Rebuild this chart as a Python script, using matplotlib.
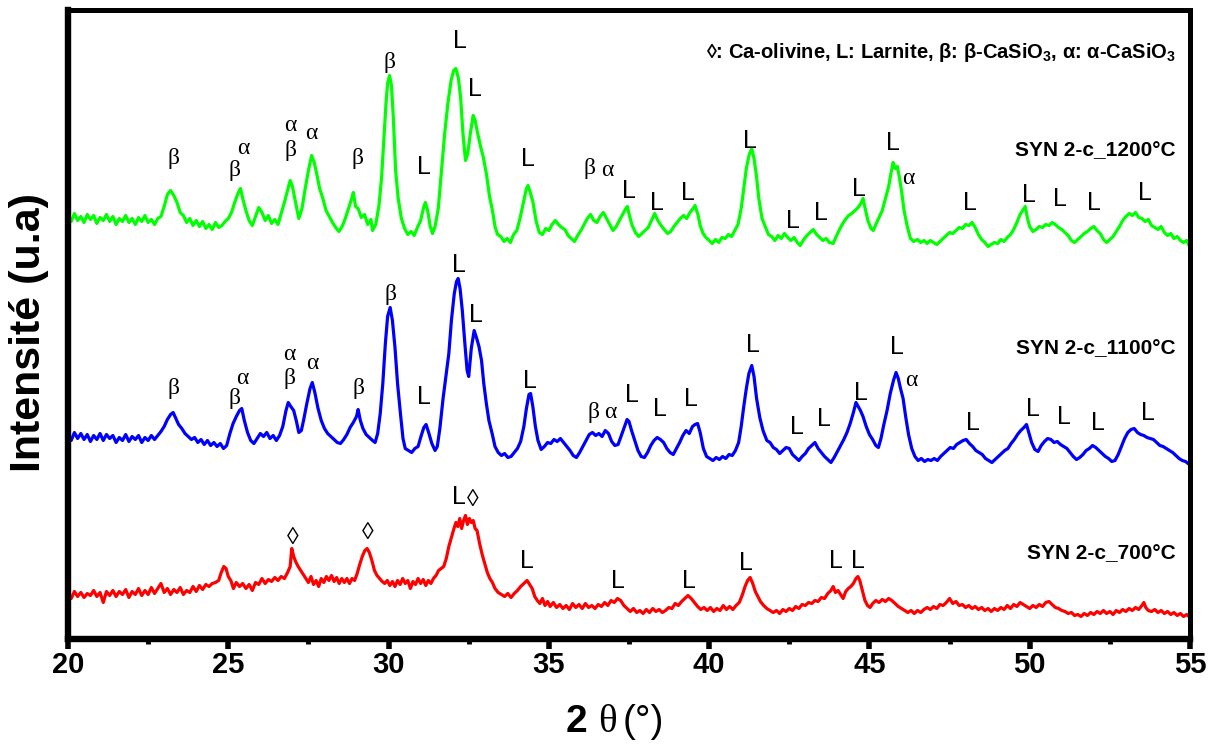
import matplotlib
matplotlib.use("Agg")
import matplotlib.pyplot as plt
from matplotlib import font_manager

# fonts: narrow bold for the tick labels if it exists
names = set(f.name for f in font_manager.fontManager.ttflist)
NARROW = "Liberation Sans Narrow" if "Liberation Sans Narrow" in names else "Liberation Sans"
plt.rcParams["font.family"] = ["Liberation Sans", "DejaVu Sans"]
plt.rcParams["mathtext.fontset"] = "custom"
plt.rcParams["mathtext.bf"] = "Liberation Sans:bold"
plt.rcParams["mathtext.rm"] = "Liberation Sans"

# --- data: (2 theta in degrees, intensity in a.u., already stacked) ---
pts_1200 = [
    (20.0, 423), (20.1, 417), (20.2, 425), (20.3, 418), (20.4, 422), (20.5, 416), (20.6, 424),
    (20.7, 419), (20.8, 423), (20.9, 415), (21.0, 421), (21.1, 418), (21.2, 424), (21.3, 417),
    (21.4, 422), (21.5, 414), (21.6, 420), (21.7, 417), (21.8, 423), (21.9, 416), (22.0, 420),
    (22.1, 414), (22.2, 421), (22.3, 417), (22.4, 423), (22.5, 416), (22.6, 419), (22.7, 414),
    (22.8, 420), (22.9, 422), (23.0, 432), (23.1, 444), (23.2, 448), (23.3, 443), (23.4, 436),
    (23.5, 426), (23.6, 423), (23.7, 416), (23.8, 420), (23.9, 413), (24.0, 418), (24.1, 412),
    (24.2, 417), (24.3, 410), (24.4, 414), (24.5, 409), (24.6, 416), (24.7, 411), (24.8, 413),
    (24.9, 417), (25.0, 420), (25.1, 426), (25.2, 436), (25.3, 445), (25.38, 450), (25.45, 440),
    (25.55, 428), (25.65, 418), (25.75, 413), (25.85, 422), (25.95, 431), (26.05, 426),
    (26.15, 418), (26.25, 423), (26.35, 415), (26.45, 419), (26.55, 414), (26.65, 425),
    (26.75, 436), (26.85, 448), (26.93, 458), (27.0, 452), (27.1, 436), (27.2, 420), (27.3, 430),
    (27.4, 450), (27.5, 468), (27.6, 483), (27.68, 476), (27.75, 466), (27.85, 450), (27.95, 440),
    (28.05, 428), (28.15, 422), (28.25, 416), (28.35, 411), (28.45, 407), (28.55, 412),
    (28.65, 420), (28.75, 430), (28.85, 440), (28.9, 446), (28.97, 432), (29.05, 430),
    (29.15, 421), (29.25, 424), (29.35, 414), (29.45, 419), (29.5, 408), (29.6, 414), (29.7, 433),
    (29.78, 460), (29.85, 498), (29.92, 535), (29.97, 555), (30.03, 563), (30.09, 553),
    (30.15, 520), (30.22, 468), (30.3, 440), (30.4, 420), (30.5, 410), (30.6, 404), (30.7, 407),
    (30.8, 403), (30.9, 411), (31.0, 418), (31.1, 432), (31.15, 436), (31.22, 428), (31.3, 412),
    (31.37, 405), (31.45, 412), (31.55, 430), (31.65, 468), (31.75, 505), (31.85, 535),
    (31.95, 558), (32.03, 568), (32.1, 570), (32.18, 560), (32.25, 540), (32.32, 505),
    (32.4, 478), (32.47, 485), (32.55, 505), (32.64, 523), (32.7, 518), (32.78, 505),
    (32.87, 492), (32.95, 482), (33.05, 465), (33.15, 442), (33.24, 428), (33.32, 412),
    (33.4, 404), (33.5, 402), (33.6, 397), (33.7, 400), (33.8, 396), (33.9, 404), (34.0, 408),
    (34.1, 420), (34.2, 435), (34.3, 450), (34.35, 453), (34.42, 446), (34.5, 437), (34.6, 418),
    (34.7, 406), (34.8, 404), (34.9, 410), (35.0, 408), (35.1, 414), (35.2, 418), (35.3, 414),
    (35.4, 411), (35.5, 409), (35.6, 403), (35.7, 400), (35.8, 397), (35.9, 403), (36.0, 408),
    (36.1, 414), (36.2, 420), (36.3, 424), (36.4, 418), (36.5, 416), (36.6, 422), (36.7, 426),
    (36.8, 420), (36.9, 414), (37.0, 408), (37.1, 412), (37.2, 418), (37.3, 424), (37.4, 430),
    (37.45, 432), (37.52, 422), (37.6, 413), (37.7, 406), (37.8, 402), (37.9, 405), (38.0, 408),
    (38.1, 411), (38.2, 418), (38.3, 425), (38.4, 418), (38.5, 413), (38.6, 409), (38.7, 405),
    (38.8, 407), (38.9, 412), (39.0, 416), (39.1, 420), (39.2, 423), (39.3, 420), (39.4, 426),
    (39.5, 430), (39.56, 433), (39.65, 424), (39.72, 413), (39.81, 405), (39.9, 401), (40.0, 398),
    (40.1, 395), (40.2, 399), (40.3, 396), (40.4, 401), (40.5, 400), (40.6, 404), (40.7, 402),
    (40.8, 408), (40.9, 414), (41.0, 430), (41.08, 450), (41.16, 470), (41.25, 484), (41.33, 490),
    (41.4, 480), (41.47, 464), (41.55, 440), (41.65, 420), (41.75, 412), (41.85, 404),
    (41.95, 402), (42.05, 398), (42.15, 403), (42.25, 400), (42.35, 405), (42.45, 401),
    (42.55, 398), (42.65, 401), (42.75, 396), (42.84, 393), (42.95, 399), (43.05, 403),
    (43.15, 406), (43.25, 409), (43.35, 404), (43.45, 401), (43.55, 398), (43.65, 400),
    (43.75, 396), (43.87, 395), (43.95, 401), (44.05, 408), (44.15, 414), (44.25, 419),
    (44.35, 423), (44.45, 425), (44.55, 428), (44.65, 431), (44.75, 436), (44.8, 440),
    (44.88, 428), (44.95, 418), (45.05, 410), (45.12, 408), (45.2, 414), (45.3, 421), (45.4, 428),
    (45.5, 440), (45.6, 452), (45.67, 465), (45.74, 476), (45.8, 470), (45.87, 472), (45.93, 462),
    (46.0, 448), (46.08, 428), (46.18, 412), (46.28, 400), (46.38, 397), (46.5, 399), (46.6, 396),
    (46.7, 398), (46.8, 395), (46.9, 398), (47.0, 396), (47.1, 394), (47.2, 397), (47.3, 400),
    (47.4, 403), (47.5, 406), (47.6, 405), (47.7, 408), (47.8, 411), (47.9, 410), (48.0, 414),
    (48.1, 413), (48.2, 416), (48.3, 411), (48.4, 404), (48.5, 399), (48.6, 396), (48.7, 392),
    (48.8, 394), (48.9, 396), (49.0, 395), (49.1, 399), (49.2, 397), (49.3, 401), (49.4, 404),
    (49.5, 409), (49.6, 416), (49.7, 424), (49.8, 429), (49.86, 432), (49.93, 420), (50.0, 412),
    (50.1, 407), (50.2, 409), (50.3, 412), (50.4, 411), (50.5, 414), (50.6, 413), (50.7, 416),
    (50.8, 414), (50.9, 411), (51.0, 409), (51.1, 406), (51.2, 403), (51.3, 398), (51.4, 396),
    (51.5, 399), (51.6, 402), (51.7, 405), (51.8, 407), (51.9, 410), (52.0, 412), (52.1, 408),
    (52.2, 405), (52.3, 399), (52.4, 396), (52.5, 399), (52.6, 402), (52.7, 407), (52.8, 412),
    (52.9, 418), (53.0, 422), (53.1, 425), (53.2, 423), (53.3, 426), (53.4, 421), (53.5, 420),
    (53.6, 417), (53.7, 419), (53.8, 413), (53.9, 411), (54.0, 409), (54.1, 412), (54.2, 406),
    (54.3, 403), (54.4, 405), (54.5, 400), (54.6, 402), (54.7, 398), (54.8, 396), (54.9, 398),
    (55.0, 391)]

pts_1100 = [
    (20.0, 203), (20.1, 198), (20.2, 206), (20.3, 200), (20.4, 205), (20.5, 199), (20.6, 204),
    (20.7, 197), (20.8, 203), (20.9, 199), (21.0, 205), (21.1, 198), (21.2, 204), (21.3, 200),
    (21.4, 203), (21.5, 196), (21.6, 201), (21.7, 198), (21.8, 204), (21.9, 197), (22.0, 202),
    (22.1, 199), (22.2, 203), (22.3, 196), (22.4, 201), (22.5, 198), (22.6, 203), (22.7, 199),
    (22.8, 203), (22.9, 207), (23.0, 212), (23.1, 219), (23.2, 224), (23.28, 226), (23.35, 221),
    (23.45, 214), (23.55, 210), (23.65, 205), (23.75, 202), (23.85, 199), (23.95, 201),
    (24.05, 196), (24.15, 199), (24.25, 194), (24.35, 198), (24.45, 193), (24.55, 196),
    (24.65, 192), (24.75, 195), (24.85, 190), (24.95, 193), (25.05, 205), (25.15, 215),
    (25.25, 222), (25.35, 228), (25.42, 230), (25.5, 218), (25.6, 206), (25.7, 198), (25.8, 195),
    (25.9, 200), (26.0, 205), (26.1, 202), (26.2, 206), (26.3, 200), (26.4, 203), (26.5, 198),
    (26.6, 203), (26.7, 212), (26.8, 228), (26.87, 236), (26.95, 232), (27.04, 228),
    (27.12, 218), (27.2, 206), (27.28, 208), (27.36, 220), (27.45, 235), (27.55, 250),
    (27.62, 256), (27.7, 246), (27.8, 230), (27.9, 218), (28.0, 210), (28.1, 205), (28.2, 202),
    (28.3, 199), (28.4, 196), (28.5, 195), (28.6, 199), (28.7, 204), (28.8, 211), (28.9, 216),
    (29.0, 222), (29.05, 229), (29.12, 218), (29.2, 210), (29.3, 204), (29.4, 201), (29.5, 198),
    (29.58, 196), (29.66, 205), (29.74, 225), (29.82, 255), (29.9, 295), (29.97, 322),
    (30.05, 331), (30.12, 318), (30.2, 291), (30.28, 255), (30.37, 225), (30.45, 200),
    (30.52, 190), (30.62, 188), (30.72, 186), (30.82, 190), (30.92, 192), (31.02, 203),
    (31.1, 211), (31.17, 214), (31.25, 206), (31.35, 195), (31.45, 188), (31.52, 192),
    (31.6, 210), (31.7, 240), (31.8, 265), (31.88, 285), (31.96, 318), (32.05, 345),
    (32.12, 357), (32.17, 360), (32.23, 350), (32.3, 328), (32.38, 295), (32.45, 268),
    (32.5, 262), (32.58, 290), (32.67, 308), (32.75, 300), (32.82, 292), (32.9, 278),
    (32.97, 255), (33.05, 235), (33.13, 218), (33.23, 205), (33.32, 192), (33.42, 186),
    (33.52, 183), (33.62, 185), (33.72, 181), (33.82, 182), (33.92, 186), (34.02, 190),
    (34.12, 197), (34.22, 212), (34.3, 230), (34.38, 244), (34.43, 245), (34.5, 232),
    (34.58, 212), (34.66, 198), (34.76, 189), (34.86, 192), (34.96, 196), (35.06, 195),
    (35.16, 199), (35.26, 197), (35.36, 200), (35.46, 196), (35.56, 192), (35.66, 188),
    (35.76, 183), (35.86, 181), (35.96, 186), (36.06, 192), (36.16, 198), (36.26, 204),
    (36.36, 206), (36.46, 203), (36.56, 205), (36.66, 202), (36.76, 208), (36.86, 205),
    (36.96, 197), (37.06, 193), (37.16, 194), (37.26, 203), (37.36, 212), (37.44, 219),
    (37.5, 217), (37.58, 208), (37.68, 198), (37.78, 188), (37.88, 182), (37.98, 181),
    (38.08, 186), (38.18, 193), (38.28, 198), (38.38, 201), (38.48, 199), (38.58, 196),
    (38.68, 190), (38.78, 186), (38.88, 184), (38.98, 190), (39.08, 196), (39.18, 203),
    (39.28, 208), (39.38, 205), (39.48, 212), (39.56, 214), (39.64, 215), (39.72, 206),
    (39.82, 190), (39.92, 182), (40.02, 180), (40.12, 178), (40.22, 181), (40.32, 179),
    (40.42, 182), (40.52, 180), (40.62, 184), (40.72, 183), (40.82, 188), (40.92, 196),
    (41.0, 212), (41.08, 232), (41.16, 250), (41.24, 265), (41.33, 273), (41.4, 262),
    (41.48, 240), (41.58, 221), (41.68, 208), (41.8, 198), (41.9, 196), (42.0, 191), (42.1, 189),
    (42.2, 185), (42.3, 188), (42.4, 191), (42.5, 190), (42.6, 184), (42.7, 181), (42.8, 178),
    (42.9, 182), (43.0, 185), (43.1, 190), (43.2, 193), (43.3, 196), (43.4, 190), (43.5, 186),
    (43.6, 182), (43.7, 179), (43.8, 176), (43.9, 181), (44.0, 187), (44.1, 193), (44.2, 199),
    (44.3, 206), (44.4, 215), (44.5, 226), (44.58, 236), (44.65, 232), (44.72, 228), (44.8, 222),
    (44.9, 212), (45.0, 204), (45.1, 199), (45.2, 193), (45.28, 191), (45.36, 200), (45.45, 214),
    (45.55, 228), (45.65, 245), (45.75, 258), (45.83, 266), (45.9, 260), (45.97, 250),
    (46.05, 240), (46.13, 222), (46.22, 204), (46.32, 190), (46.42, 182), (46.52, 178),
    (46.62, 180), (46.72, 177), (46.82, 179), (46.92, 178), (47.02, 180), (47.12, 178),
    (47.22, 182), (47.32, 185), (47.42, 188), (47.52, 191), (47.62, 190), (47.72, 194),
    (47.82, 196), (47.92, 198), (48.02, 199), (48.12, 195), (48.22, 192), (48.32, 188),
    (48.42, 186), (48.52, 184), (48.62, 180), (48.72, 178), (48.82, 176), (48.92, 179),
    (49.02, 182), (49.12, 185), (49.22, 188), (49.32, 190), (49.42, 195), (49.52, 199),
    (49.62, 204), (49.72, 208), (49.82, 211), (49.9, 214), (49.98, 205), (50.06, 196),
    (50.16, 189), (50.26, 187), (50.36, 193), (50.46, 197), (50.56, 200), (50.66, 199),
    (50.76, 196), (50.86, 197), (50.96, 194), (51.06, 192), (51.16, 190), (51.26, 186),
    (51.36, 182), (51.46, 179), (51.56, 181), (51.66, 184), (51.76, 188), (51.86, 190),
    (51.96, 193), (52.06, 191), (52.16, 188), (52.26, 185), (52.36, 182), (52.46, 180),
    (52.56, 177), (52.66, 178), (52.76, 184), (52.86, 192), (52.96, 200), (53.06, 206),
    (53.16, 209), (53.26, 210), (53.36, 206), (53.46, 204), (53.56, 203), (53.66, 201),
    (53.76, 200), (53.86, 199), (53.96, 196), (54.06, 193), (54.16, 192), (54.26, 190),
    (54.36, 188), (54.46, 186), (54.56, 183), (54.66, 180), (54.76, 178), (54.86, 177),
    (54.94, 175)]

pts_700 = [
    (20.0, 45), (20.1, 40), (20.2, 47), (20.3, 42), (20.4, 46), (20.5, 41), (20.6, 45), (20.7, 43),
    (20.8, 48), (20.9, 42), (21.0, 46), (21.1, 36), (21.2, 47), (21.3, 43), (21.4, 48), (21.5, 42),
    (21.6, 47), (21.7, 44), (21.8, 49), (21.9, 41), (22.0, 47), (22.1, 44), (22.2, 50), (22.3, 43),
    (22.4, 48), (22.5, 44), (22.6, 51), (22.7, 45), (22.8, 50), (22.9, 55), (23.0, 46), (23.1, 50),
    (23.2, 44), (23.3, 49), (23.4, 46), (23.5, 51), (23.6, 44), (23.7, 48), (23.8, 46), (23.9, 52),
    (24.0, 47), (24.1, 53), (24.2, 49), (24.3, 54), (24.4, 52), (24.5, 55), (24.6, 56), (24.7, 58),
    (24.78, 66), (24.86, 72), (24.93, 70), (25.0, 62), (25.08, 58), (25.16, 50), (25.25, 56),
    (25.35, 52), (25.45, 55), (25.55, 50), (25.65, 54), (25.75, 48), (25.85, 56), (25.95, 54),
    (26.05, 60), (26.15, 55), (26.25, 59), (26.35, 57), (26.45, 61), (26.55, 58), (26.65, 62),
    (26.75, 60), (26.85, 66), (26.93, 72), (26.98, 90), (27.04, 82), (27.1, 77), (27.18, 72),
    (27.26, 68), (27.34, 64), (27.42, 60), (27.5, 56), (27.58, 62), (27.66, 54), (27.74, 58),
    (27.82, 52), (27.9, 60), (27.98, 56), (28.06, 62), (28.14, 58), (28.22, 63), (28.3, 57),
    (28.38, 61), (28.46, 55), (28.54, 60), (28.62, 56), (28.7, 60), (28.78, 55), (28.86, 60),
    (28.94, 58), (29.02, 65), (29.1, 74), (29.18, 82), (29.26, 88), (29.33, 90), (29.4, 86),
    (29.48, 78), (29.56, 68), (29.64, 63), (29.72, 60), (29.8, 57), (29.88, 55), (29.96, 58),
    (30.04, 53), (30.12, 57), (30.2, 52), (30.28, 58), (30.36, 54), (30.44, 60), (30.52, 55),
    (30.6, 58), (30.68, 50), (30.76, 57), (30.84, 54), (30.92, 60), (31.0, 55), (31.08, 59),
    (31.16, 53), (31.24, 58), (31.32, 55), (31.4, 60), (31.48, 63), (31.56, 68), (31.64, 70),
    (31.72, 72), (31.8, 80), (31.88, 92), (31.96, 101), (32.04, 110), (32.1, 116), (32.16, 112),
    (32.22, 120), (32.28, 110), (32.34, 118), (32.4, 123), (32.46, 114), (32.52, 120),
    (32.58, 116), (32.64, 118), (32.7, 110), (32.76, 108), (32.84, 95), (32.92, 84), (33.0, 75),
    (33.08, 66), (33.16, 60), (33.24, 56), (33.32, 50), (33.42, 46), (33.52, 44), (33.62, 42),
    (33.72, 45), (33.82, 41), (33.92, 45), (34.02, 48), (34.12, 52), (34.22, 55), (34.32, 58),
    (34.4, 54), (34.48, 50), (34.56, 42), (34.64, 38), (34.72, 35), (34.8, 40), (34.88, 33),
    (34.96, 37), (35.04, 32), (35.14, 36), (35.24, 31), (35.34, 34), (35.44, 30), (35.54, 33),
    (35.64, 29), (35.74, 35), (35.84, 31), (35.94, 34), (36.04, 30), (36.14, 35), (36.24, 31),
    (36.34, 33), (36.44, 30), (36.54, 34), (36.64, 32), (36.74, 36), (36.84, 33), (36.94, 38),
    (37.04, 36), (37.14, 40), (37.24, 38), (37.34, 33), (37.44, 30), (37.54, 27), (37.64, 30),
    (37.74, 26), (37.84, 28), (37.94, 25), (38.04, 29), (38.14, 26), (38.24, 30), (38.34, 27),
    (38.44, 29), (38.54, 26), (38.64, 28), (38.74, 31), (38.84, 30), (38.94, 35), (39.04, 33),
    (39.14, 37), (39.24, 40), (39.34, 43), (39.44, 40), (39.54, 36), (39.64, 32), (39.74, 29),
    (39.84, 31), (39.94, 28), (40.04, 31), (40.14, 27), (40.24, 30), (40.34, 28), (40.44, 33),
    (40.54, 29), (40.64, 32), (40.74, 29), (40.84, 33), (40.94, 36), (41.04, 44), (41.12, 52),
    (41.2, 58), (41.28, 61), (41.36, 55), (41.44, 47), (41.52, 42), (41.6, 37), (41.7, 33),
    (41.8, 30), (41.9, 28), (42.0, 26), (42.1, 28), (42.2, 25), (42.3, 29), (42.4, 27), (42.5, 30),
    (42.6, 28), (42.7, 32), (42.8, 30), (42.9, 34), (43.0, 33), (43.1, 36), (43.2, 35), (43.3, 38),
    (43.4, 37), (43.5, 41), (43.6, 40), (43.7, 45), (43.8, 48), (43.87, 52), (43.94, 46),
    (44.02, 48), (44.1, 44), (44.18, 40), (44.26, 47), (44.34, 50), (44.42, 52), (44.5, 55),
    (44.58, 60), (44.64, 62), (44.7, 58), (44.78, 48), (44.86, 38), (44.94, 33), (45.02, 31),
    (45.1, 35), (45.2, 38), (45.3, 36), (45.4, 39), (45.5, 37), (45.6, 40), (45.7, 38), (45.8, 35),
    (45.9, 32), (46.0, 30), (46.1, 28), (46.2, 26), (46.3, 28), (46.4, 25), (46.5, 28), (46.6, 26),
    (46.7, 29), (46.8, 31), (46.9, 29), (47.0, 32), (47.1, 30), (47.2, 34), (47.3, 33), (47.4, 36),
    (47.5, 40), (47.6, 35), (47.7, 37), (47.8, 33), (47.9, 34), (48.0, 31), (48.1, 33), (48.2, 30),
    (48.3, 32), (48.4, 29), (48.5, 31), (48.6, 28), (48.7, 30), (48.8, 27), (48.9, 30), (49.0, 28),
    (49.1, 31), (49.2, 29), (49.3, 33), (49.4, 30), (49.5, 34), (49.6, 32), (49.7, 36), (49.8, 34),
    (49.9, 32), (50.0, 30), (50.1, 33), (50.2, 31), (50.3, 34), (50.4, 32), (50.5, 36), (50.6, 37),
    (50.7, 34), (50.8, 31), (50.9, 30), (51.0, 28), (51.1, 27), (51.2, 25), (51.3, 26), (51.4, 23),
    (51.5, 24), (51.6, 22), (51.7, 25), (51.8, 23), (51.9, 26), (52.0, 24), (52.1, 27), (52.2, 25),
    (52.3, 28), (52.4, 25), (52.5, 27), (52.6, 24), (52.7, 28), (52.8, 26), (52.9, 29), (53.0, 27),
    (53.1, 30), (53.2, 28), (53.3, 31), (53.4, 29), (53.5, 33), (53.56, 36), (53.62, 31),
    (53.7, 28), (53.8, 27), (53.9, 29), (54.0, 26), (54.1, 28), (54.2, 25), (54.3, 27), (54.4, 24),
    (54.5, 26), (54.6, 23), (54.7, 25), (54.8, 22), (54.9, 24), (55.0, 21)]

# phase marks: (symbol, 2theta, height)
marks_1200 = [("β", 23.29, 480), ("β", 25.19, 468), ("α", 25.47, 490), ("α", 26.94, 513),
              ("β", 26.94, 488), ("α", 27.6, 505), ("β", 29.02, 480), ("β", 30.02, 576),
              ("L", 31.11, 472), ("L", 32.23, 598), ("L", 32.7, 550), ("L", 34.35, 480),
              ("β", 36.28, 470), ("α", 36.82, 468), ("L", 37.5, 448), ("L", 38.38, 436),
              ("L", 39.35, 446), ("L", 41.28, 498), ("L", 42.62, 418), ("L", 43.5, 426),
              ("L", 44.68, 450), ("L", 45.74, 496), ("α", 46.2, 460), ("L", 48.13, 436),
              ("L", 49.97, 443), ("L", 50.94, 440), ("L", 52.0, 435), ("L", 53.59, 446)]
marks_1100 = [("β", 23.29, 250), ("β", 25.19, 240), ("α", 25.43, 260), ("α", 26.9, 284),
              ("β", 26.9, 260), ("α", 27.62, 275), ("β", 29.05, 250), ("β", 30.05, 344),
              ("L", 31.11, 242), ("L", 32.2, 374), ("L", 32.73, 324), ("L", 34.42, 258),
              ("β", 36.38, 226), ("α", 36.91, 226), ("L", 37.6, 244), ("L", 38.47, 230),
              ("L", 39.44, 240), ("L", 41.37, 293), ("L", 42.74, 212), ("L", 43.58, 220),
              ("L", 44.74, 245), ("L", 45.86, 291), ("α", 46.3, 258), ("L", 48.22, 216),
              ("L", 50.1, 230), ("L", 51.07, 222), ("L", 52.13, 216), ("L", 53.69, 226)]
marks_700 = [("◊", 27.0, 100), ("◊", 29.34, 105), ("L", 32.2, 141), ("◊", 32.64, 138),
             ("L", 34.32, 78), ("L", 37.16, 58), ("L", 39.37, 58), ("L", 41.15, 76),
             ("L", 43.96, 78), ("L", 44.64, 78)]

samples = ["SYN 2-c_1200°C", "SYN 2-c_1100°C", "SYN 2-c_700°C"]
sample_y = [488, 290, 85]

fig = plt.figure(figsize=(12.19, 7.53), dpi=100)
ax = fig.add_axes([68 / 1219, 1 - 638.5 / 753, (1190 - 68) / 1219, (638.5 - 10) / 753])

for pts, col in ((pts_1200, "#00ff00"), (pts_1100, "#0000ff"), (pts_700, "#ff0000")):
    tt, ii = zip(*pts)
    ax.plot(tt, ii, color=col, lw=2.3)

for marks in (marks_1200, marks_1100, marks_700):
    for s, x, y in marks:
        if s == "L":
            ax.text(x, y, s, fontsize=18, ha="center", va="center",
                    family=["Liberation Sans", "DejaVu Sans"])
        else:
            ax.text(x, y, s, fontsize=17, ha="center", va="center",
                    family=["Liberation Serif", "DejaVu Serif"])

for name, y in zip(samples, sample_y):
    ax.text(54.55, y, name, fontsize=15, fontweight="bold", ha="right", va="center")

ax.text(54.55, 586,
        r"◊: Ca-olivine, L: Larnite, β: β-CaSi$\mathbf{O}_\mathbf{3}$, α: α-CaSi$\mathbf{O}_\mathbf{3}$",
        fontsize=14.5, fontweight="bold", ha="right", va="center")

ax.set_xlim(20, 55)
ax.set_ylim(0, 628.5)
ax.set_xticks([20, 25, 30, 35, 40, 45, 50, 55])
ax.set_xticks([22.5, 27.5, 32.5, 37.5, 42.5, 47.5, 52.5], minor=True)
ax.set_yticks([])
ax.tick_params(axis="x", which="major", direction="out", length=7, width=4, pad=2)
ax.tick_params(axis="x", which="minor", direction="out", length=3.5, width=3.5)
for lab in ax.get_xticklabels():
    lab.set_fontfamily(NARROW)
    lab.set_fontweight("bold")
    lab.set_fontsize(23 if NARROW != "Liberation Sans" else 21)

ax.spines["left"].set_linewidth(4.6)
ax.spines["bottom"].set_linewidth(4.6)
ax.spines["top"].set_linewidth(3.6)
ax.spines["right"].set_linewidth(3.6)

fig.text(29 / 1219, 1 - 332 / 753, "Intensité (u.a)", fontsize=31, fontweight="bold",
         rotation=90, ha="center", va="center")
fig.text(576 / 1219, 1 - 722 / 753, "2", fontsize=28, fontweight="bold", ha="center", va="center")
fig.text(607 / 1219, 1 - 722 / 753, "θ", fontsize=28, ha="center", va="center",
         family=["Liberation Serif", "DejaVu Serif"])
fig.text(643 / 1219, 1 - 722 / 753, "(°)", fontsize=28, ha="center", va="center")

fig.savefig("out.png", dpi=100)
